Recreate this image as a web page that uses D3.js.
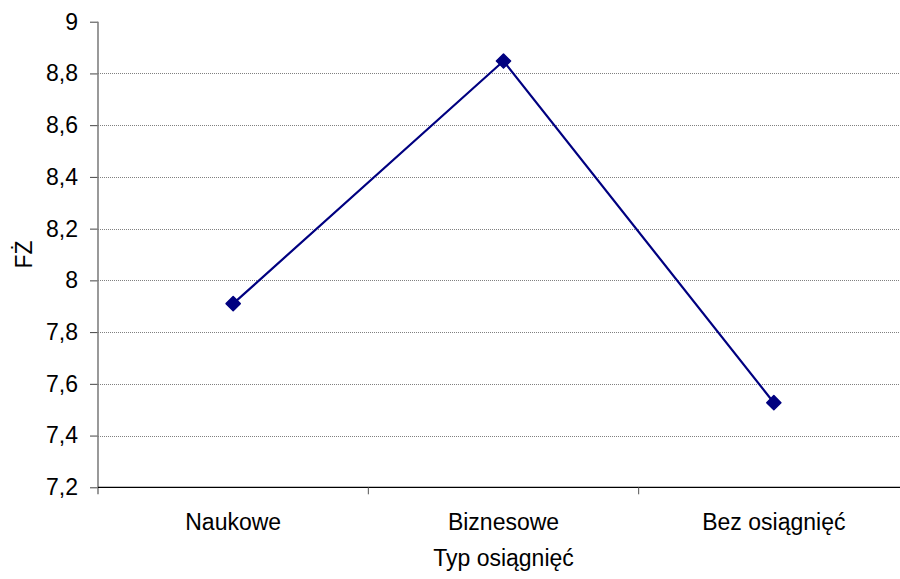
<!DOCTYPE html>
<html><head><meta charset="utf-8">
<script src="https://cdn.jsdelivr.net/npm/d3@7"></script>
<style>body{margin:0;background:#fff}svg{display:block}text{font-family:"Liberation Sans",Arial,sans-serif;fill:#000}</style>
</head><body><div id="chart"></div>
<script>
const categories = ["Naukowe", "Biznesowe", "Bez osiągnięć"];
const values = [7.91, 8.848, 7.527];
const yTicks = [7.2, 7.4, 7.6, 7.8, 8, 8.2, 8.4, 8.6, 8.8, 9];
const xTitle = "Typ osiągnięć";
const yTitle = "FŻ";

const W = 900, H = 579;
const FS = "23px";
const m = {left: 98, right: -9, top: 21.7, bottom: 91.7};
const svg = d3.select("#chart").append("svg").attr("width", W).attr("height", H);
const x = d3.scaleBand().domain(categories).range([m.left, W - m.right]).paddingInner(0).paddingOuter(0);
const y = d3.scaleLinear().domain([7.2, 9]).range([H - m.bottom, m.top]);
const fmt = d => String(+d.toFixed(1)).replace(".", ",");

// gridlines
svg.append("g").selectAll("line").data(yTicks.filter(d => d > 7.2 && d < 9)).join("line")
  .attr("x1", m.left).attr("x2", W).attr("y1", d => Math.round(y(d)) + 0.5).attr("y2", d => Math.round(y(d)) + 0.5)
  .attr("stroke", "#808080").attr("stroke-width", 1).attr("stroke-dasharray", "1,1");

// y axis
const yAxis = svg.append("g").attr("transform", `translate(${m.left},0)`)
  .call(d3.axisLeft(y).tickValues(yTicks).tickFormat(fmt).tickSize(8).tickPadding(12));
yAxis.select(".domain").remove();
yAxis.selectAll(".tick line").attr("stroke", "#444");
yAxis.selectAll("text").style("font-size", FS).attr("fill", "#000");
svg.append("line").attr("x1", m.left).attr("x2", m.left).attr("y1", y(9)).attr("y2", y(7.2) + 7)
  .attr("stroke", "#808080").attr("stroke-width", 1.6);

// x axis
const xAxis = svg.append("g").attr("transform", `translate(0,${y(7.2)})`)
  .call(d3.axisBottom(x).tickSize(0).tickPadding(26));
xAxis.select(".domain").remove();
xAxis.selectAll("text").style("font-size", FS).attr("fill", "#000");
svg.append("line").attr("x1", m.left).attr("x2", W).attr("y1", y(7.2)).attr("y2", y(7.2))
  .attr("stroke", "#000").attr("stroke-width", 1.3);
svg.append("g").selectAll("line").data(categories.slice(1)).join("line")
  .attr("x1", d => x(d)).attr("x2", d => x(d)).attr("y1", y(7.2)).attr("y2", y(7.2) + 7)
  .attr("stroke", "#555").attr("stroke-width", 1);

// titles
svg.append("text").attr("x", (m.left + W - m.right) / 2).attr("y", 566).attr("text-anchor", "middle")
  .style("font-size", FS).text(xTitle);
svg.append("text").attr("transform", `translate(32,${(y(9) + y(7.2)) / 2}) rotate(-90)`).attr("text-anchor", "middle")
  .style("font-size", FS).text(yTitle);

// line
const pts = categories.map((c, i) => [x(c) + x.bandwidth() / 2, y(values[i])]);
svg.append("path").attr("d", d3.line()(pts)).attr("fill", "none").attr("stroke", "#000080").attr("stroke-width", 2.2);
svg.append("g").selectAll("path").data(pts).join("path")
  .attr("d", d3.symbol().type(d3.symbolSquare).size(100))
  .attr("transform", d => `translate(${d[0]},${d[1]}) rotate(45)`)
  .attr("fill", "#000080").attr("stroke", "#000080").attr("stroke-width", 1.5).attr("stroke-linejoin", "round");
</script></body></html>
